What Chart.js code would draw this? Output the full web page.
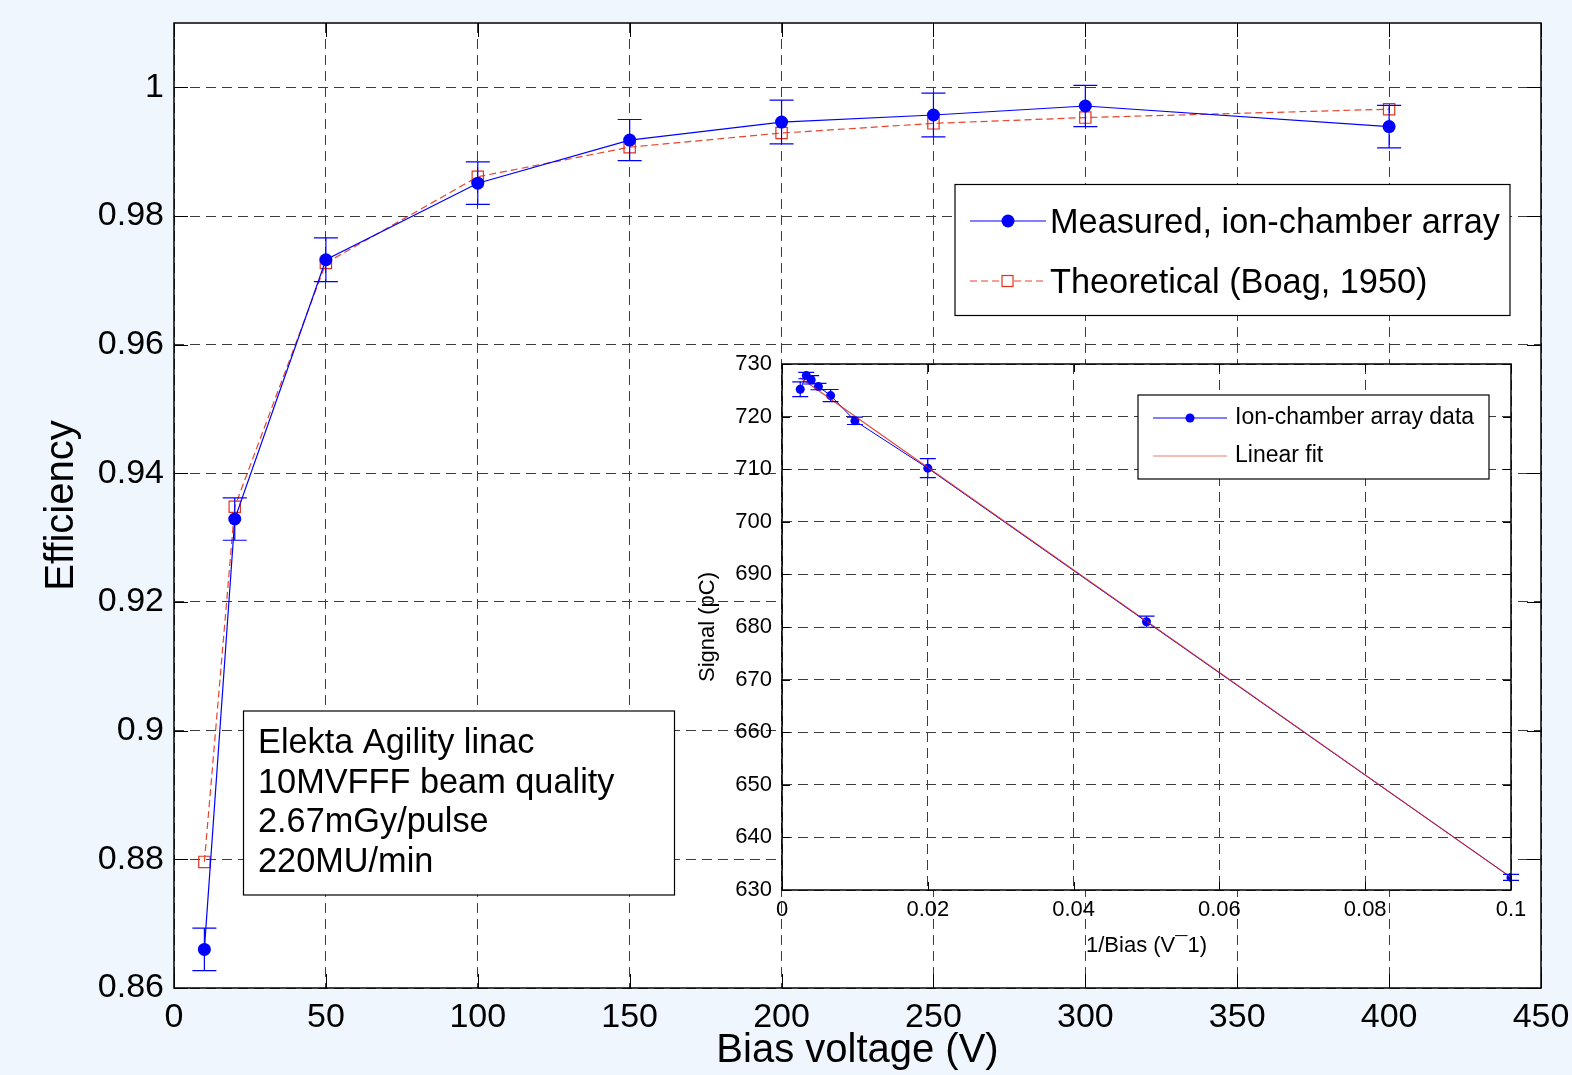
<!DOCTYPE html>
<html>
<head>
<meta charset="utf-8">
<script src="https://cdn.jsdelivr.net/npm/chart.js@4/dist/chart.umd.min.js"></script>
<style>
html,body{margin:0;padding:0;background:#F0F6FE;}
#wrap{position:relative;width:1572px;height:1075px;overflow:hidden;}
#main{position:absolute;left:0;top:0;}
#inset{position:absolute;left:640px;top:330px;}
</style>
</head>
<body>
<div id="wrap">
<canvas id="main" width="1572" height="1075"></canvas>
<canvas id="inset" width="900" height="640"></canvas>
</div>
<script>
// ---------- Main chart data ----------
const biasV = [10, 20, 50, 100, 150, 200, 250, 300, 400];
const measuredEff = [0.8660, 0.9329, 0.9732, 0.9851, 0.9918, 0.9946, 0.9957, 0.9971, 0.9939];
const measuredErr = [0.0033, 0.0033, 0.0034, 0.0033, 0.0032, 0.0034, 0.0034, 0.0032, 0.0033];
const theoryEff = [0.8796, 0.9348, 0.9727, 0.9861, 0.9907, 0.9929, 0.9944, 0.9953, 0.9966];
const xTicks = [0, 50, 100, 150, 200, 250, 300, 350, 400, 450];
const yTicks = [0.86, 0.88, 0.90, 0.92, 0.94, 0.96, 0.98, 1.00];
const yTickLabels = ['0.86', '0.88', '0.9', '0.92', '0.94', '0.96', '0.98', '1'];
const seriesNames = ['Measured, ion-chamber array', 'Theoretical (Boag, 1950)'];
const noteLines = ['Elekta Agility linac', '10MVFFF beam quality', '2.67mGy/pulse', '220MU/min'];

// ---------- Inset data ----------
const invBias = [0.0025, 0.00333, 0.004, 0.005, 0.00667, 0.01, 0.02, 0.05, 0.1];
const signalPC = [725.2, 727.8, 727.0, 725.7, 724.0, 719.2, 710.2, 681.0, 632.4];
const signalErr = [1.4, 0.6, 0.8, 0.6, 1.15, 0.7, 1.8, 1.05, 0.57];
const fitX = [0.0025, 0.1];
const fitY = [727.4, 632.4];
const insetXTicks = [0, 0.02, 0.04, 0.06, 0.08, 0.1];
const insetXLabels = ['0', '0.02', '0.04', '0.06', '0.08', '0.1'];
const insetYTicks = [630, 640, 650, 660, 670, 680, 690, 700, 710, 720, 730];
const insetNames = ['Ion-chamber array data', 'Linear fit'];

const FONT = '"Liberation Sans", Arial, Helvetica, sans-serif';
Chart.defaults.font.family = FONT;
Chart.defaults.color = '#000';

function pts(xs, ys) { return xs.map((x, i) => ({x: x, y: ys[i]})); }
function noPad(s) { s.paddingLeft = 0; s.paddingRight = 0; s.paddingTop = 0; s.paddingBottom = 0; }

// ---------- plugins ----------
function bgPlugin(fillPage) {
  return {
    id: 'bg',
    beforeDraw(chart) {
      const {ctx, chartArea: a} = chart;
      ctx.save();
      if (fillPage) { ctx.fillStyle = '#F0F6FE'; ctx.fillRect(0, 0, chart.width, chart.height); }
      ctx.fillStyle = '#FFFFFF';
      ctx.fillRect(a.left, a.top, a.right - a.left, a.bottom - a.top);
      ctx.restore();
    }
  };
}
function framePlugin(tickLen, lw) {
  return {
    id: 'frame',
    afterDatasetsDraw(chart) {
      const {ctx, chartArea: a, scales} = chart;
      ctx.save();
      ctx.strokeStyle = '#000';
      ctx.lineWidth = 1;
      ctx.beginPath();
      scales.x.ticks.forEach(t => {
        const px = Math.round(scales.x.getPixelForValue(t.value)) + 0.5;
        ctx.moveTo(px, a.bottom); ctx.lineTo(px, a.bottom - tickLen);
        ctx.moveTo(px, a.top); ctx.lineTo(px, a.top + tickLen);
      });
      scales.y.ticks.forEach(t => {
        const py = Math.round(scales.y.getPixelForValue(t.value)) + 0.5;
        ctx.moveTo(a.left, py); ctx.lineTo(a.left + tickLen, py);
        ctx.moveTo(a.right, py); ctx.lineTo(a.right - tickLen, py);
      });
      ctx.stroke();
      ctx.lineWidth = lw;
      ctx.strokeRect(a.left, a.top, a.right - a.left, a.bottom - a.top);
      ctx.restore();
    }
  };
}
function errPlugin(capHalf) {
  return {
    id: 'err',
    afterDatasetsDraw(chart) {
      const {ctx} = chart;
      const ys = chart.scales.y;
      chart.data.datasets.forEach((ds, di) => {
        if (!ds.errorBars) return;
        const meta = chart.getDatasetMeta(di);
        ctx.save();
        ctx.strokeStyle = ds.borderColor;
        ctx.lineWidth = 1.2;
        ctx.beginPath();
        meta.data.forEach((el, i) => {
          const v = ds.data[i].y, e = ds.errorBars[i];
          const y1 = ys.getPixelForValue(v + e), y2 = ys.getPixelForValue(v - e);
          ctx.moveTo(el.x, y1); ctx.lineTo(el.x, y2);
          ctx.moveTo(el.x - capHalf, y1); ctx.lineTo(el.x + capHalf, y1);
          ctx.moveTo(el.x - capHalf, y2); ctx.lineTo(el.x + capHalf, y2);
        });
        ctx.stroke();
        ctx.restore();
      });
    }
  };
}

const mainLegend = {
  id: 'mainLegend',
  afterDraw(chart) {
    const {ctx} = chart;
    const ds = chart.data.datasets;
    ctx.save();
    // legend box
    ctx.fillStyle = '#fff';
    ctx.fillRect(955, 184.5, 555, 131);
    ctx.strokeStyle = '#000'; ctx.lineWidth = 1.2;
    ctx.strokeRect(955, 184.5, 555, 131);
    // row 1
    ctx.strokeStyle = ds[0].borderColor; ctx.lineWidth = 1.2;
    ctx.beginPath(); ctx.moveTo(970, 221); ctx.lineTo(1046, 221); ctx.stroke();
    ctx.fillStyle = ds[0].borderColor;
    ctx.beginPath(); ctx.arc(1008, 221, 6.5, 0, Math.PI * 2); ctx.fill();
    // row 2
    ctx.strokeStyle = ds[1].borderColor;
    ctx.setLineDash([7, 4]);
    ctx.beginPath(); ctx.moveTo(970, 281); ctx.lineTo(1046, 281); ctx.stroke();
    ctx.setLineDash([]);
    ctx.strokeStyle = ds[1].pointBorderColor;
    ctx.fillStyle = '#fff';
    ctx.fillRect(1002, 275.5, 11, 11);
    ctx.strokeRect(1002, 275.5, 11, 11);
    ctx.fillStyle = '#000';
    ctx.font = '34.3px ' + FONT;
    ctx.textBaseline = 'alphabetic';
    ctx.fillText(ds[0].label, 1050, 233);
    ctx.fillText(ds[1].label, 1050, 293);
    // annotation box
    ctx.fillStyle = '#fff';
    ctx.fillRect(243.5, 711, 431, 184);
    ctx.strokeStyle = '#000'; ctx.lineWidth = 1.2;
    ctx.strokeRect(243.5, 711, 431, 184);
    ctx.fillStyle = '#000';
    noteLines.forEach((t, i) => ctx.fillText(t, 258, 753 + i * 39.7));
    ctx.restore();
  }
};

new Chart(document.getElementById('main'), {
  type: 'line',
  data: {
    datasets: [
      {
        label: seriesNames[0],
        data: pts(biasV, measuredEff),
        errorBars: measuredErr,
        borderColor: '#0000FF', backgroundColor: '#0000FF',
        borderWidth: 1.2, pointRadius: 6.5, pointBorderWidth: 0,
        pointBackgroundColor: '#0000FF', tension: 0
      },
      {
        label: seriesNames[1],
        data: pts(biasV, theoryEff),
        borderColor: '#E8452C', borderDash: [7, 4], borderWidth: 1.2,
        pointStyle: 'rect', pointRadius: 8, pointBorderWidth: 1.2,
        pointBorderColor: '#E0341E', pointBackgroundColor: 'rgba(0,0,0,0)', tension: 0
      }
    ]
  },
  options: {
    responsive: false, animation: false, events: [],
    layout: {padding: {left: 0, top: 23, right: 31, bottom: 0}},
    plugins: {legend: {display: false}, tooltip: {enabled: false}},
    scales: {
      x: {
        type: 'linear', min: 0, max: 450,
        afterBuildTicks: s => { s.ticks = xTicks.map(v => ({value: v})); },
        afterFit: s => { s.height = 87; noPad(s); },
        grid: {color: '#3c3c3c', lineWidth: 1, drawTicks: false},
        border: {display: false, dash: [10, 6]},
        ticks: {padding: 9, autoSkip: false, maxRotation: 0, color: '#000',
                font: {family: FONT, size: 34}, callback: (v, i) => String(xTicks[i])},
        title: {display: true, text: 'Bias voltage (V)', color: '#000',
                font: {family: FONT, size: 40}, padding: 0}
      },
      y: {
        type: 'linear', min: 0.86, max: 1.01,
        afterBuildTicks: s => { s.ticks = yTicks.map(v => ({value: v})); },
        afterFit: s => { s.width = 174; noPad(s); },
        grid: {color: '#3c3c3c', lineWidth: 1, drawTicks: false},
        border: {display: false, dash: [10, 6]},
        ticks: {padding: 10, autoSkip: false, color: '#000',
                font: {family: FONT, size: 34}, callback: (v, i) => yTickLabels[i]},
        title: {display: true, text: 'Efficiency', color: '#000',
                font: {family: FONT, size: 40}, padding: {top: 38, bottom: 0}}
      }
    }
  },
  plugins: [bgPlugin(true), errPlugin(12), framePlugin(14, 1.5), mainLegend]
});

// ---------- Inset ----------
const insetLegend = {
  id: 'insetLegend',
  afterDraw(chart) {
    const {ctx} = chart;
    const ds = chart.data.datasets;
    const dataDs = ds[1], fitDs = ds[0];
    ctx.save();
    ctx.fillStyle = '#fff';
    ctx.fillRect(498, 65, 351, 84);
    ctx.strokeStyle = '#000'; ctx.lineWidth = 1.2;
    ctx.strokeRect(498, 65, 351, 84);
    ctx.strokeStyle = dataDs.borderColor; ctx.lineWidth = 1;
    ctx.beginPath(); ctx.moveTo(513, 88); ctx.lineTo(587, 88); ctx.stroke();
    ctx.fillStyle = dataDs.borderColor;
    ctx.beginPath(); ctx.arc(550, 88, 4.5, 0, Math.PI * 2); ctx.fill();
    ctx.strokeStyle = 'rgba(232,80,60,0.75)';
    ctx.beginPath(); ctx.moveTo(513, 126); ctx.lineTo(587, 126); ctx.stroke();
    ctx.fillStyle = '#000';
    ctx.font = '23px ' + FONT;
    ctx.textBaseline = 'middle';
    ctx.fillText(dataDs.label, 595, 88);
    ctx.fillText(fitDs.label, 595, 126);
    ctx.restore();
  }
};

new Chart(document.getElementById('inset'), {
  type: 'scatter',
  data: {
    datasets: [
      {
        label: insetNames[1],
        data: pts(fitX, fitY),
        showLine: true, borderColor: 'rgba(222,40,24,0.85)', borderWidth: 1.2,
        pointRadius: 0, tension: 0
      },
      {
        label: insetNames[0],
        data: pts(invBias, signalPC),
        errorBars: signalErr,
        showLine: true, borderColor: '#0000FF', backgroundColor: '#0000FF',
        borderWidth: 1, pointRadius: 4.5, pointBorderWidth: 0,
        pointBackgroundColor: '#0000FF', tension: 0
      }
    ]
  },
  options: {
    responsive: false, animation: false, events: [],
    layout: {padding: {left: 0, top: 34, right: 29, bottom: 0}},
    plugins: {legend: {display: false}, tooltip: {enabled: false}},
    scales: {
      x: {
        type: 'linear', min: 0, max: 0.1,
        afterBuildTicks: s => { s.ticks = insetXTicks.map(v => ({value: v})); },
        afterFit: s => { s.height = 80; noPad(s); },
        grid: {color: '#3c3c3c', lineWidth: 1, drawTicks: false},
        border: {display: false, dash: [10, 6]},
        ticks: {padding: 7, autoSkip: false, maxRotation: 0, color: '#000',
                font: {family: FONT, size: 22}, callback: (v, i) => insetXLabels[i]},
        title: {display: true, text: '1/Bias (V\u00AF1)', color: '#000',
                font: {family: FONT, size: 22}, padding: {top: 0, bottom: 11}}
      },
      y: {
        type: 'linear', min: 630, max: 730,
        afterBuildTicks: s => { s.ticks = insetYTicks.map(v => ({value: v})); },
        afterFit: s => { s.width = 142; noPad(s); },
        grid: {color: '#3c3c3c', lineWidth: 1, drawTicks: false},
        border: {display: false, dash: [10, 6]},
        ticks: {padding: 10, autoSkip: false, color: '#000',
                font: {family: FONT, size: 22}, callback: (v, i) => String(insetYTicks[i])},
        title: {display: true, text: 'Signal (pC)', color: '#000',
                font: {family: FONT, size: 22}, padding: {top: 55, bottom: 0}}
      }
    }
  },
  plugins: [bgPlugin(false), errPlugin(8), framePlugin(8, 1.5), insetLegend]
});
</script>
</body>
</html>
